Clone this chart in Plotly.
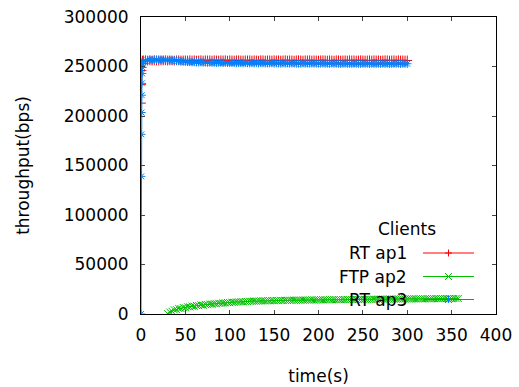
import plotly.graph_objects as go

# ---- series data (bps sampled every 2.5 s after the start-up ramp) -------
rt_ap1_time = [0, 0.3, 0.6, 1, 1.5, 2] + [2.5 * (i + 1) for i in range(120)]
rt_ap1_bps = [213000, 232000, 246000, 253000, 255500, 256000,
              256100, 256300, 256000, 256200, 255900, 256300, 256100, 256000, 256200, 256100,
              256300, 256000, 256200, 256100, 255900, 256200, 256300, 256000, 256100, 256200,
              256000, 256300, 256100, 256200, 255900, 256100, 256300, 256000, 256200, 256100,
              256200, 256000, 256300, 256100, 256000, 256200, 256100, 256300, 255900, 256200,
              256100, 256000, 256200, 256300, 256100, 256000, 256200, 256100, 256300, 256000,
              256200, 256100, 255900, 256300, 256200, 256000, 256100, 256200, 256000, 256300,
              256100, 256200, 256000, 256100, 256300, 256000, 256200, 256100, 255900, 256200,
              256300, 256100, 256000, 256200, 256100, 256300, 256000, 256200, 256100, 256000,
              256200, 256300, 256100, 256000, 256200, 256100, 255900, 256300, 256200, 256000,
              256100, 256200, 256000, 256300, 256100, 256200, 256000, 256100, 256300, 256200,
              256000, 256100, 256200, 256000, 256300, 256100, 256200, 255900, 256100, 256300,
              256200, 256000, 256100, 256200, 256000, 256300, 256100, 256200, 256000, 256100]

ftp_ap2_time = [30 + 2.5 * i for i in range(132)]
ftp_ap2_bps = [300, 1900, 2700, 4200, 4400, 5600, 5500, 6600, 6400, 7300,
               7200, 8000, 7800, 8600, 8400, 9200, 8900, 9700, 9400, 10000,
               9900, 10500, 10300, 10900, 10700, 11200, 11100, 11600, 11400, 11900,
               11800, 12200, 12100, 12500, 12300, 12700, 12600, 12900, 12800, 13100,
               12900, 13200, 13100, 13400, 13200, 13500, 13300, 13600, 13400, 13700,
               13500, 13800, 13600, 13900, 13700, 13900, 13800, 14000, 13900, 14100,
               13900, 14100, 14000, 14200, 14000, 14300, 14100, 14300, 14200, 14400,
               14200, 14400, 14300, 14500, 14300, 14500, 14400, 14600, 14400, 14600,
               14500, 14700, 14500, 14700, 14600, 14800, 14600, 14800, 14700, 14900,
               14700, 14900, 14800, 15000, 14800, 15000, 14900, 15100, 14900, 15100,
               15000, 15200, 15000, 15200, 15100, 15300, 15100, 15300, 15200, 15300,
               15200, 15400, 15200, 15400, 15300, 15400, 15300, 15500, 15300, 15500,
               15400, 15600, 15400, 15600, 15500, 15600, 15500, 15700, 15500, 15700,
               15600, 15700]

rt_ap3_time = [0, 0.2, 0.4, 0.6, 0.8, 1.0, 1.3, 1.6, 2] + [2.5 * (i + 1) for i in range(120)]
rt_ap3_bps = [0, 139000, 181500, 203500, 221000, 233000, 243000, 249000, 253000,
              254800, 255900, 256400, 256700, 256500, 256800, 256600, 256700, 256500, 256600,
              256400, 256500, 256300, 256100, 256200, 255900, 255700, 255400, 255200, 254900,
              254700, 254600, 254400, 254500, 254300, 254200, 254400, 254100, 254200, 254000,
              254100, 253900, 254000, 253800, 254000, 253900, 253700, 253900, 253800, 253600,
              253800, 253700, 253500, 253700, 253600, 253400, 253600, 253500, 253300, 253500,
              253400, 253600, 253300, 253500, 253400, 253200, 253400, 253300, 253500, 253200,
              253400, 253300, 253100, 253300, 253200, 253400, 253100, 253300, 253200, 253000,
              253200, 253100, 253300, 253000, 253200, 253100, 253300, 253000, 253100, 253200,
              253000, 253200, 252900, 253100, 253000, 253200, 252900, 253100, 253000, 252800,
              253000, 253100, 252900, 253000, 252800, 253100, 252900, 253000, 252800, 253000,
              252900, 253100, 252800, 253000, 252900, 252800, 253000, 252900, 253100, 252800,
              253000, 252900, 252800, 253000, 252900, 253100, 252800, 253000, 252900, 252800]

series_names = ["RT ap1", "FTP ap2", "RT ap3"]
series_colors = ["#ff0000", "#00c000", "#0080ff"]
series_symbols = ["cross-thin", "x-thin", "asterisk"]

x_ticks = [0, 50, 100, 150, 200, 250, 300, 350, 400]
y_ticks = [0, 50000, 100000, 150000, 200000, 250000, 300000]

# ---- layout geometry ---------------------------------------------------
W, H = 519, 387
ML, MR, MT, MB = 141, 23, 17, 73
FONT = "DejaVu Sans"


def px_x(x):
    return (x - ML) / (W - ML - MR)


def px_y(y):
    return 1 - (y - MT) / (H - MT - MB)


fig = go.Figure()
for t, v, name, col, sym in zip(
        [rt_ap1_time, ftp_ap2_time, rt_ap3_time],
        [rt_ap1_bps, ftp_ap2_bps, rt_ap3_bps],
        series_names, series_colors, series_symbols):
    fig.add_trace(go.Scatter(
        x=t, y=v, name=name, mode="lines+markers",
        line=dict(color=col, width=1),
        marker=dict(symbol=sym, size=7, color=col,
                    line=dict(color=col, width=1)),
        showlegend=False, cliponaxis=True))

# ---- key box: title, right-aligned labels, sample lines with a point ----
shapes, annots = [], []
annots.append(dict(text="Clients", x=px_x(407), y=px_y(229), xref="paper", yref="paper",
                   xanchor="center", yanchor="middle", showarrow=False,
                   font=dict(family=FONT, size=17, color="#000")))
key_rows = [253, 276.5, 299.5]
for name, col, sym, ry in zip(series_names, series_colors, series_symbols, key_rows):
    annots.append(dict(text=name, x=px_x(409), y=px_y(ry), xref="paper", yref="paper",
                       xanchor="right", yanchor="middle", showarrow=False,
                       font=dict(family=FONT, size=17, color="#000")))
    shapes.append(dict(type="line", xref="paper", yref="paper",
                       x0=px_x(423), x1=px_x(474), y0=px_y(ry), y1=px_y(ry),
                       line=dict(color=col, width=1)))
    cx, r = 448.5, 3.5
    segs = []
    if sym in ("cross-thin", "asterisk"):
        segs += [((cx - r, ry), (cx + r, ry)), ((cx, ry - r), (cx, ry + r))]
    if sym in ("x-thin", "asterisk"):
        segs += [((cx - r, ry - r), (cx + r, ry + r)), ((cx - r, ry + r), (cx + r, ry - r))]
    for (a, b) in segs:
        shapes.append(dict(type="line", xref="paper", yref="paper",
                           x0=px_x(a[0]), y0=px_y(a[1]), x1=px_x(b[0]), y1=px_y(b[1]),
                           line=dict(color=col, width=1)))

axis_common = dict(
    showline=True, linecolor="#000", linewidth=1, mirror="ticks",
    ticks="inside", ticklen=4, tickcolor="#444", tickwidth=1,
    showgrid=False, zeroline=False, automargin=False,
    tickfont=dict(family=FONT, size=17, color="#000"),
)

fig.update_layout(
    width=W, height=H,
    margin=dict(l=ML, r=MR, t=MT, b=MB),
    paper_bgcolor="white", plot_bgcolor="white",
    xaxis=dict(range=[0, 400], tickvals=x_ticks, ticktext=[str(v) for v in x_ticks],
               ticklabelstandoff=6,
               title=dict(text="time(s)", font=dict(family=FONT, size=17, color="#000"),
                          standoff=25),
               **axis_common),
    yaxis=dict(range=[0, 300000], tickvals=y_ticks, ticktext=[str(v) for v in y_ticks],
               ticklabelstandoff=8,
               title=dict(text="throughput(bps)", font=dict(family=FONT, size=17, color="#000"),
                          standoff=29),
               **axis_common),
    shapes=shapes, annotations=annots,
)

fig.write_html("out.html")
